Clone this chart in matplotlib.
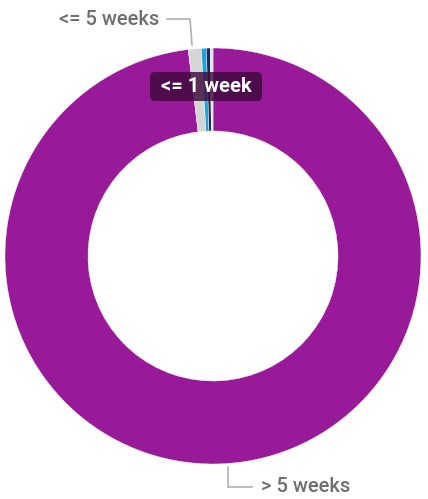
import matplotlib
matplotlib.use("Agg")
import matplotlib.pyplot as plt
from matplotlib.patches import FancyBboxPatch

categories = ["> 5 weeks", "<= 5 weeks", "<= 1 week", "<= 2 weeks", "<= 4 weeks"]
values = [98.1, 1.0, 0.39, 0.3, 0.21]
colors = ["#981a98", "#d5d5d5", "#1fa3d6", "#1b2a4e", "#e2e2e2"]

W, H = 428, 499
fig = plt.figure(figsize=(W / 100, H / 100), dpi=100)
ax = fig.add_axes([0, 0, 1, 1])

cx, cy = 213, H - 256
R = 208
ax.pie(values, colors=colors, startangle=90, counterclock=False,
       center=(cx, cy), radius=R, frame=True,
       wedgeprops=dict(width=R - 125, edgecolor="white", linewidth=0.3))
ax.set_xlim(0, W)
ax.set_ylim(0, H)
ax.set_aspect("equal")
ax.axis("off")

font = ["Roboto", "DejaVu Sans"]
lc = "#b0b0b0"
tc = "#6e6e6e"

# "<= 5 weeks" label
ax.text(159, H - 19, categories[1], ha="right", va="center", fontsize=14.5,
        color=tc, family=font, fontweight="medium")
ax.plot([167, 190, 192], [H - 19, H - 19, H - 45], color=lc, lw=1.2,
        solid_joinstyle="miter")

# "> 5 weeks" label
ax.text(261, H - 487, categories[0], ha="left", va="center", fontsize=14.5,
        color=tc, family=font, fontweight="medium")
ax.plot([228, 228, 252], [H - 467, H - 487, H - 487], color=lc, lw=1.2,
        solid_joinstyle="miter")

# "<= 1 week" tooltip label
box = FancyBboxPatch((150, H - 101), 112, 29,
                     boxstyle="round,pad=0,rounding_size=5",
                     facecolor="#3e0a3d", edgecolor="none", alpha=0.82)
ax.add_patch(box)
ax.text(206, H - 86, categories[2], ha="center", va="center", fontsize=14.5,
        color="white", fontweight="bold", family=font)

fig.savefig("out.png", dpi=100)
